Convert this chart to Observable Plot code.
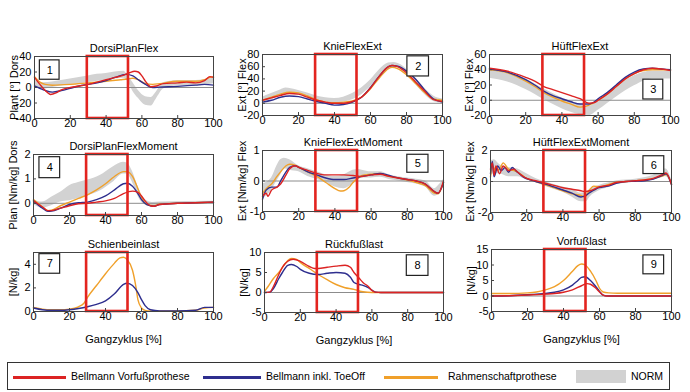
<!DOCTYPE html>
<html><head><meta charset="utf-8">
<script src="https://cdn.jsdelivr.net/npm/d3@7"></script>
<script src="https://cdn.jsdelivr.net/npm/@observablehq/plot@0.6"></script>
<style>
body{margin:0;background:#fff;font-family:"Liberation Sans",Arial,sans-serif;}
#root{position:relative;width:690px;height:392px;overflow:hidden;background:#fff;}
.panel{position:absolute;}
#legend{position:absolute;left:7px;top:362px;width:663px;height:28px;border:1px solid #333;box-sizing:border-box;font-size:10.5px;}
#legend .sw{position:absolute;top:13px;height:2.5px;}
#legend .tx{position:absolute;top:7px;line-height:13px;white-space:nowrap;}
</style></head><body><div id="root"></div>
<script>
// ---- data: [x (% gait cycle), value] ----
const xTicks = [0, 20, 40, 60, 80, 100];
const legendLabels = ["Bellmann Vorfußprothese", "Bellmann inkl. ToeOff", "Rahmenschaftprothese", "NORM"];
const titles = ["DorsiPlanFlex","KnieFlexExt","HüftFlexExt","DorsiPlanFlexMoment","KnieFlexExtMoment","HüftFlexExtMoment","Schienbeinlast","Rückfußlast","Vorfußlast"];
const yLabels = ["Plant [°] Dors","Ext [°] Flex","Ext [°] Flex","Plan [Nm/kg] Dors","Ext [Nm/kg] Flex","Ext [Nm/kg] Flex","[N/kg]","[N/kg]","[N/kg]"];
const yTicks = [[-40,-20,0,20,40],[-20,0,20,40,60,80],[-20,0,20,40,60],[0,1,2],[-1,0,1],[-2,0,2],[0,2,4],[-5,0,5,10],[-5,0,5,10,15]];
const yDomains = [[-40,40],[-20,80],[-20,60],[-0.5,2],[-1,1],[-2,2],[0,5],[-5,10],[-5,15]];

// NORM bands [x, lower, upper]
const p1Norm = [[0,0,10],[5,-2,6],[10,0,7],[15,2,9],[20,4,11],[25,5,13],[30,6,15],[35,8,17],[40,9,18],[45,11,20],[50,12,21],[52,8,16],[55,-5,6],[58,-14,-4],[62,-23,-12],[65,-24,-13],[68,-15,-6],[72,-2,6],[76,1,8],[80,2,9],[85,2,9],[90,2,9],[95,3,10],[100,5,12]];
const p2Norm = [[0,2,10],[5,6,16],[10,12,22],[13,15,25],[16,15,24],[20,13,21],[25,9,17],[30,5,12],[35,2,9],[40,1,8],[45,2,10],[50,6,16],[55,14,25],[60,27,38],[65,44,55],[70,57,66],[73,59,67],[77,55,63],[80,46,56],[85,31,41],[90,15,25],[95,3,12],[100,0,7]];
const p3Norm = [[0,29,40],[10,24,35],[20,14,28],[30,1,15],[40,-11,3],[50,-19,-5],[55,-20,-8],[60,-13,0],[70,4,18],[80,19,32],[90,28,38],[100,28,38]];
const p4Norm = [[0,-0.05,0.15],[5,-0.2,0.05],[10,-0.1,0.25],[15,0.05,0.45],[20,0.1,0.72],[25,0.2,0.85],[30,0.3,0.95],[37,0.5,1.14],[44,0.85,1.48],[50,1.2,1.68],[52,1.2,1.65],[55,0.85,1.3],[58,0.3,0.7],[60,0.05,0.35],[63,-0.1,0.1],[66,-0.12,0.03],[70,-0.05,0.05],[100,0,0.08]];
const p5Norm = [[0,-0.6,-0.1],[5,-0.3,0.1],[8,0,0.5],[10,0.2,0.7],[12,0.4,0.75],[15,0.35,0.7],[20,0.3,0.5],[25,0.15,0.4],[30,0.05,0.3],[35,-0.05,0.2],[40,-0.2,0.15],[45,-0.25,0.2],[50,-0.1,0.35],[53,0.05,0.38],[55,0.1,0.35],[60,0.1,0.3],[65,0.12,0.3],[70,0.05,0.2],[80,-0.05,0.1],[90,-0.2,0],[95,-0.5,-0.25],[98,-0.4,-0.1],[100,-0.1,0.05]];
const p6Norm = [[0,0.3,1.3],[2,0.5,1.4],[5,0.5,1.1],[10,0.3,0.9],[15,0.3,0.8],[20,0.1,0.5],[25,-0.05,0.2],[30,-0.3,0],[35,-0.5,-0.2],[40,-0.7,-0.35],[45,-1.0,-0.5],[50,-1.3,-0.75],[53,-1.3,-0.7],[55,-1.0,-0.5],[60,-0.6,-0.25],[65,-0.4,-0.1],[70,-0.2,0.05],[75,-0.1,0.1],[80,-0.05,0.15],[85,0,0.25],[90,0.1,0.4],[95,0.3,0.8],[97,0.3,0.8],[100,-0.3,0.1]];

// Bellmann Vorfußprothese (red)
const p1Red = [[0,13],[3,4],[6,-4],[9,-9],[12,-7],[15,-3],[20,0],[25,2],[30,4],[35,7],[40,10],[45,13],[50,16],[53,19],[56,21],[58,20],[60,15],[62,8],[65,1],[68,2],[72,5],[80,6],[85,7],[90,6],[95,9],[98,14],[100,13]];
const p2Red = [[0,5],[5,9],[10,13],[15,16],[20,15],[25,10],[30,5],[35,2],[40,0],[45,0],[50,3],[55,10],[60,25],[65,45],[70,60],[72,62],[75,60],[80,50],[85,35],[90,20],[95,6],[100,3]];
const p3Red = [[0,42],[10,38],[20,30],[25,25],[30,18],[35,14],[40,10],[45,6],[50,2],[55,-4],[58,-3],[60,0],[65,8],[70,18],[75,28],[80,35],[85,40],[90,42],[95,41],[100,39]];
const p4Red = [[0,0.1],[3,-0.05],[5,-0.15],[8,-0.3],[10,-0.3],[15,-0.2],[20,-0.1],[25,-0.02],[30,0],[35,0.05],[40,0.1],[45,0.2],[50,0.4],[55,0.5],[58,0.45],[60,0.3],[62,0.1],[65,-0.1],[67,-0.12],[70,-0.05],[80,0],[90,0.02],[100,0.05]];
const p5Red = [[0,-0.5],[2,-0.4],[3,-0.5],[5,-0.3],[8,-0.2],[10,-0.1],[13,0.2],[15,0.4],[18,0.5],[20,0.45],[25,0.35],[30,0.25],[35,0.2],[40,0.2],[45,0.2],[50,0.18],[55,0.15],[60,0.2],[65,0.22],[70,0.15],[75,0.1],[80,0.05],[85,0],[90,-0.1],[95,-0.35],[97,-0.4],[100,0]];
const p6Red = [[0,0.8],[1,1.2],[2,0.4],[3,1.0],[5,0.5],[7,1.0],[10,0.7],[13,0.8],[15,0.6],[20,0.2],[25,0.05],[30,-0.1],[35,-0.25],[40,-0.4],[45,-0.5],[50,-0.6],[52,-0.65],[55,-0.6],[60,-0.35],[65,-0.25],[70,-0.05],[75,0],[80,0.05],[85,0.1],[90,0.2],[95,0.45],[97,0.55],[100,-0.2]];
const p8Red = [[0,0],[3,0.1],[5,1.5],[8,4.5],[10,6.3],[13,7.8],[16,8.3],[20,7.8],[25,6.5],[28,6],[30,6],[35,6.3],[40,6.6],[45,6.8],[48,6.3],[50,5],[53,3.5],[55,2.5],[58,1.5],[60,0.5],[62,0.1],[65,0],[100,0]];
const p9Red = [[0,0],[10,0.1],[20,0.3],[30,0.6],[35,0.8],[40,1.2],[45,2.0],[50,3.3],[53,4.0],[55,3.8],[58,2.5],[60,1.3],[62,0.3],[64,0],[100,0]];

// Bellmann inkl. ToeOff (blue)
const p1Blue = [[0,2],[5,-3],[10,-6],[15,-4],[20,-1],[25,2],[30,4],[35,6],[40,9],[45,13],[51,17],[55,15],[58,10],[62,4],[66,0],[70,0.5],[80,1.5],[90,3],[95,4],[100,3]];
const p2Blue = [[0,2],[5,5],[10,10],[15,12],[20,11],[25,7],[30,3],[35,0],[40,-3],[45,-2],[50,2],[55,10],[60,26],[65,45],[70,60],[72,62],[75,61],[80,53],[85,40],[90,22],[95,7],[100,2]];
const p3Blue = [[0,41],[10,37],[20,27],[25,20],[30,12],[35,6],[40,2],[45,-2],[50,-5],[55,-5],[58,-2],[60,2],[65,10],[70,20],[75,30],[80,37],[85,41],[90,42],[95,41],[100,40]];
const p4Blue = [[0,0.1],[5,-0.2],[8,-0.33],[10,-0.32],[15,-0.2],[20,-0.05],[25,0.02],[30,0.05],[35,0.15],[40,0.3],[45,0.55],[50,0.8],[52,0.82],[55,0.7],[58,0.4],[60,0.15],[63,-0.05],[67,-0.12],[70,-0.05],[80,0],[90,0.02],[100,0.05]];
const p5Blue = [[0,-0.6],[2,-0.3],[5,-0.2],[8,-0.2],[10,0],[13,0.3],[15,0.45],[18,0.5],[20,0.45],[25,0.3],[30,0.2],[35,0.1],[40,0.05],[45,0.05],[50,0.1],[55,0.15],[60,0.2],[65,0.25],[70,0.18],[75,0.1],[80,0.05],[85,0],[90,-0.1],[95,-0.35],[97,-0.4],[100,-0.05]];
const p6Blue = [[0,0.5],[1,1.3],[2,0.3],[4,1.0],[6,0.7],[8,0.9],[10,0.6],[12,0.9],[14,0.7],[18,0.3],[22,0.1],[25,0],[30,-0.15],[35,-0.35],[40,-0.55],[45,-0.75],[50,-1.0],[52,-0.95],[55,-0.7],[58,-0.5],[60,-0.4],[65,-0.3],[70,-0.1],[75,0],[80,0.02],[85,0.05],[90,0.15],[95,0.4],[97,0.5],[100,-0.2]];
const p7Blue = [[0,0.3],[5,0.15],[10,0.1],[15,0.1],[20,0.15],[25,0.25],[30,0.4],[35,0.6],[40,0.9],[45,1.5],[50,2.3],[52,2.4],[55,2.2],[58,1.6],[60,1.0],[62,0.5],[65,0.15],[70,0.05],[80,0.05],[90,0.1],[95,0.35],[100,0.35]];
const p8Blue = [[0,0],[3,0.1],[5,1.0],[8,3.5],[10,5],[13,6.8],[15,7.0],[18,6.5],[20,5.8],[25,4.8],[30,4.5],[35,4.8],[40,5.0],[45,4.8],[48,3.8],[50,2.5],[53,2.0],[55,1.8],[58,1.2],[60,0.6],[62,0.1],[65,0],[100,0]];
const p9Blue = [[0,0],[10,0.1],[20,0.4],[25,0.6],[30,0.8],[35,1.2],[40,2],[45,3.5],[48,5],[50,6],[52,6.2],[55,5.0],[58,3.0],[60,1.5],[62,0.3],[65,0],[100,0]];

// Rahmenschaftprothese (orange)
const p1Orange = [[0,14],[3,7],[6,4],[10,3],[20,4],[30,6],[40,8],[48,10],[52,11],[55,12],[58,10],[62,5],[66,4],[70,5],[80,8],[90,8],[95,10],[98,13],[100,14]];
const p2Orange = [[0,5],[5,10],[10,15],[15,18],[20,17],[25,12],[30,6],[35,2],[40,1],[45,2],[50,4],[55,10],[60,24],[65,42],[70,57],[72,59],[75,57],[80,47],[85,33],[90,18],[95,7],[100,5]];
const p3Orange = [[0,40],[10,36],[20,25],[25,18],[30,10],[35,4],[40,-1],[45,-5],[50,-9],[53,-8],[57,-4],[60,0],[65,8],[70,18],[75,28],[80,35],[85,39],[90,40],[95,40],[100,40]];
const p4Orange = [[0,0.15],[5,-0.15],[8,-0.3],[10,-0.28],[15,-0.1],[20,0.05],[25,0.2],[30,0.35],[35,0.55],[40,0.8],[45,1.1],[50,1.3],[52,1.3],[55,1.1],[58,0.6],[60,0.25],[63,-0.05],[67,-0.1],[70,-0.03],[80,0],[90,0.02],[100,0.05]];
const p5Orange = [[0,-0.4],[3,-0.2],[5,-0.1],[8,0.15],[10,0.3],[13,0.5],[15,0.55],[18,0.52],[20,0.45],[25,0.3],[30,0.15],[35,-0.05],[40,-0.25],[43,-0.33],[45,-0.32],[48,-0.2],[50,-0.05],[53,0.1],[55,0.18],[60,0.22],[65,0.25],[70,0.15],[75,0.1],[80,0.03],[85,-0.05],[90,-0.15],[95,-0.4],[97,-0.42],[100,-0.05]];
const p6Orange = [[0,0.3],[1,1.0],[3,0.7],[5,0.8],[7,1.2],[10,0.8],[13,0.7],[15,0.6],[20,0.2],[25,0],[30,-0.2],[35,-0.4],[40,-0.6],[45,-0.8],[50,-0.9],[52,-1.0],[55,-0.5],[57,-0.3],[60,-0.35],[65,-0.2],[70,-0.05],[75,0],[80,0.05],[85,0.1],[90,0.2],[95,0.35],[97,0.45],[100,-0.15]];
const p7Orange = [[0,0.35],[5,0.2],[10,0.15],[15,0.15],[20,0.2],[25,0.4],[28,0.7],[30,1.2],[35,2.2],[40,3.2],[45,4.1],[48,4.55],[50,4.6],[52,4.4],[55,3.5],[57,2.0],[58,1.0],[60,0.3],[62,0.1],[65,0.05],[70,0.05],[80,0.05],[90,0.1],[95,0.3],[100,0.35]];
const p8Orange = [[0,0.3],[2,1.5],[5,3.5],[8,5],[10,6.3],[12,7.5],[15,8.5],[18,8.3],[20,7.5],[25,6],[30,4.5],[35,3.2],[40,2],[45,1.2],[50,0.8],[52,0.5],[55,0.2],[60,0],[100,0]];
const p9Orange = [[0,0.8],[10,0.8],[20,1.0],[25,1.3],[30,2.0],[35,3.0],[40,5.0],[45,8.0],[48,9.8],[50,10.3],[52,10.0],[55,8.0],[58,5],[60,2.5],[62,1.3],[65,1.0],[70,0.9],[80,0.9],[90,0.9],[100,0.9]];

// highlighted stance window (% gait cycle)
const windowX = [29.5, 52.5];
// panel number boxes [x1, x2, y1, y2] in data units
const numBoxes = [[3,14,10,35],[80.5,92.5,44,77],[85,96,1,27],[3.3,14.8,1.03,1.89],[80,91.7,0.27,0.86],[84.5,96,0.48,1.63],[3.3,14.8,3.2,4.86],[79.5,91.6,4.15,9.3],[84.4,95.9,7,13.1]];

const norms = [p1Norm,p2Norm,p3Norm,p4Norm,p5Norm,p6Norm,null,null,null];
const reds = [p1Red,p2Red,p3Red,p4Red,p5Red,p6Red,null,p8Red,p9Red];
const blues = [p1Blue,p2Blue,p3Blue,p4Blue,p5Blue,p6Blue,p7Blue,p8Blue,p9Blue];
const oranges = [p1Orange,p2Orange,p3Orange,p4Orange,p5Orange,p6Orange,p7Orange,p8Orange,p9Orange];

// layout (frame boxes in page pixels)
const frames = [[34,56,213,118],[262,54,442,115],[489,54,670,115],[33,154,213,215],[262,150,443,211],[490,150,671,212],[33,252,213,311],[264,252,443,312],[491,249,671,311]];
const RED = "#dc2323", BLUE = "#2e2e8e", ORANGE = "#f0a02a", GREY = "#d2d2d2";
const FONT = "'Liberation Sans', Arial, sans-serif";

const root = document.getElementById("root");
for (let i = 0; i < 9; i++) {
  const [L, T, R, B] = frames[i];
  const mL = 44, mT = 22, mR = 8, mB = 38;
  const marks = [];
  if (norms[i]) marks.push(Plot.areaY(norms[i], {x: d => d[0], y1: d => d[1], y2: d => d[2], fill: GREY, curve: "monotone-x"}));
  marks.push(Plot.ruleY([0], {stroke: "#8c8c8c", strokeWidth: 1}));
  const line = (data, color) => data && marks.push(Plot.line(data, {x: d => d[0], y: d => d[1], stroke: color, strokeWidth: 1.4, curve: "monotone-x"}));
  line(oranges[i], ORANGE);
  line(blues[i], BLUE);
  line(reds[i], RED);
  marks.push(Plot.rect([windowX], {x1: d => d[0], x2: d => d[1], stroke: "#e3241f", strokeWidth: 2.6, fill: "none"}));
  marks.push(Plot.rect([numBoxes[i]], {x1: d => d[0], x2: d => d[1], y1: d => d[2], y2: d => d[3], fill: "white", stroke: "#222", strokeWidth: 1.2}));
  marks.push(Plot.text([numBoxes[i]], {x: d => (d[0] + d[1]) / 2, y: d => (d[2] + d[3]) / 2, text: () => String(i + 1), fontSize: 11, fill: "#000"}));
  marks.push(Plot.frame({stroke: "#444"}));
  marks.push(Plot.axisX({ticks: xTicks, tickSize: -3, tickPadding: 4, tickFormat: d => String(d), stroke: "#444",
    label: i >= 6 ? "Gangzyklus [%]" : null, labelAnchor: "center", labelOffset: 31, labelArrow: "none"}));
  marks.push(Plot.axisY({ticks: yTicks[i], tickSize: -3, tickPadding: 6, tickFormat: d => String(d), stroke: "#444",
    label: yLabels[i], labelAnchor: "center", labelOffset: 24, labelArrow: "none"}));
  marks.push(Plot.text([titles[i]], {frameAnchor: "top", dy: -5, lineAnchor: "bottom", fontSize: 11, fill: "#000"}));
  const svg = Plot.plot({
    width: (R - L) + mL + mR, height: (B - T) + mT + mB,
    marginLeft: mL, marginRight: mR, marginTop: mT, marginBottom: mB,
    style: {fontFamily: FONT, fontSize: "11px", color: "#000", background: "transparent", overflow: "visible"},
    x: {domain: [0, 100]},
    y: {domain: yDomains[i]},
    marks
  });
  svg.classList.add("panel");
  svg.style.left = (L - mL) + "px";
  svg.style.top = (T - mT) + "px";
  root.appendChild(svg);
}

// legend
const lg = document.createElement("div");
lg.id = "legend";
const items = [
  {x: 5, w: 53, c: RED, t: 63},
  {x: 195, w: 58, c: BLUE, t: 258},
  {x: 376, w: 54, c: ORANGE, t: 440},
  {x: 568, w: 50, c: GREY, t: 623, rect: true}
];
items.forEach((it, k) => {
  const sw = document.createElement("div");
  sw.className = "sw";
  sw.style.left = it.x + "px"; sw.style.width = it.w + "px"; sw.style.background = it.c;
  if (it.rect) { sw.style.top = "7px"; sw.style.height = "13px"; }
  lg.appendChild(sw);
  const tx = document.createElement("div");
  tx.className = "tx"; tx.style.left = it.t + "px"; tx.textContent = legendLabels[k];
  lg.appendChild(tx);
});
root.appendChild(lg);
</script></body></html>
